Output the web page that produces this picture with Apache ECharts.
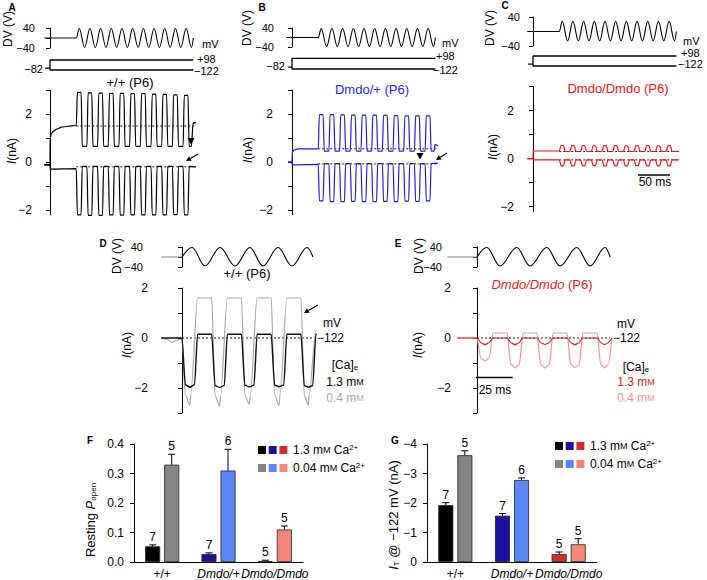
<!DOCTYPE html>
<html><head><meta charset="utf-8">
<script src="https://cdn.jsdelivr.net/npm/echarts@6/dist/echarts.min.js"></script>
<style>html,body{margin:0;padding:0;background:#fff}#c{width:707px;height:580px}</style>
</head><body><div id="c"></div>
<script>
// ================= DATA =================
// Panels A-C: time in ms from the voltage step; lobes of the 11 stimulus cycles
const lobeStart = [41.0, 57.7, 74.4, 91.1, 107.8, 124.5, 141.2, 157.9, 174.6, 191.3, 208.0];
const lobeEnd   = [50.4, 67.1, 83.8, 100.5, 117.2, 133.9, 150.6, 167.3, 184.0, 200.7, 217.4];
const dvPeakT   = [45.7, 62.4, 79.1, 95.8, 112.5, 129.2, 145.9, 162.6, 179.3, 196.0, 212.7];
const dvTroughT = [54.1, 70.8, 87.5, 104.2, 120.9, 137.6, 154.3, 171.0, 187.7, 204.4, 221.0];
const dvAmpAB = [38, -38];
const dvAmpC = [28, -26];
const dvPreABC = [[-9, 0], [38, 0], [41, 0]];
const dvPostABC = [[224, 0]];
// holding-potential steps (mV)
const holdLevels = [-82, 98, -122];
const stepStubStart = [-7.8, -6.2, -7.8];
const stepEnd = 224;

// A  (+/+) currents, nA
const aUpPre  = [[-9,-0.12],[0,-0.12],[0.2,1.0],[2,1.17],[5,1.28],[10,1.37],[18,1.45],[28,1.49],[41,1.52]];
const aUpPeak = [2.9,2.88,2.87,2.86,2.86,2.85,2.85,2.83,2.82,2.8,2.78];
const aUpBase = 0.65;
const aUpPost = [[217.4,0.65],[221,0.65],[223.5,1.6],[226,1.65],[228,1.62]];
const aLoPre  = [[-9,-0.12],[0,-0.12],[0.2,-0.3],[41,-0.28]];
const aLoPeak = [-2.2,-2.22,-2.22,-2.2,-2.21,-2.2,-2.2,-2.2,-2.2,-2.19,-2.2];
const aLoBase = -0.18;
const aLoPost = [[217.4,-0.18],[228,-0.2]];
const aDash = [1.5, -0.2];
// B  (Dmdo/+)
const bUpPre  = [[-6,0],[0,0],[0.5,0.4],[3,0.5],[10,0.55],[41,0.55]];
const bUpPeak = [1.97,1.97,1.96,1.95,1.95,1.95,1.94,1.93,1.92,1.92,1.92];
const bUpBase = 0.45;
const bUpPost = [[217.4,0.45],[222,0.45],[223.5,0.72],[228,0.68]];
const bLoPre  = [[-6,0],[0,0],[0.3,-0.12],[41,-0.1]];
const bLoPeak = [-1.62,-1.65,-1.65,-1.64,-1.65,-1.65,-1.64,-1.65,-1.63,-1.64,-1.62];
const bLoBase = -0.07;
const bLoPost = [[217.4,-0.07],[228,-0.05]];
const bDash = [0.55, -0.08];
// C  (Dmdo/Dmdo)
const cUpPre  = [[-9,0],[0,0],[0.3,0.32],[41,0.32]];
const cUpPeak = [0.55,0.55,0.55,0.54,0.55,0.55,0.54,0.55,0.55,0.54,0.55];
const cUpBase = 0.3;
const cUpPost = [[217.4,0.3],[228,0.3]];
const cLoPre  = [[-9,0],[0,0],[0.3,-0.05],[41,-0.05]];
const cLoPeak = [-0.3,-0.3,-0.3,-0.29,-0.3,-0.3,-0.3,-0.29,-0.3,-0.3,-0.3];
const cLoBase = -0.05;
const cLoPost = [[217.4,-0.05],[228,-0.05]];
const cDash = [0.3, -0.05];
const cScaleBar = [164, 214];   // 50 ms
const cScaleY = -0.68;

// D (+/+), time in ms from stimulus onset
const dStart = [0, 20.1, 40.2, 60.3, 80.4];
const dEnd   = [10.5, 30.6, 50.7, 70.8, 90.4];
const dDvPeakT = [6.8, 25.7, 45.9, 64.9, 84.5];
const dDvTroughT = [15.5, 35.8, 54.7, 74.3];
const dDvAmp = [38, -36];
const dBlkPre = [[-14,0],[0,0]];
const dBlkBase = 0.15;
const dBlkEdge = [-1.86,-1.9,-1.88,-1.88,-1.9];
const dBlkMid  = [-1.97,-1.98,-1.96,-1.95,-1.97];
const dBlkPost = [[90.4,0.15],[91,0.12]];
const dGryPre = [[-14,0],[-10,-0.05],[-7,-0.18],[-4,-0.1],[0,-0.02]];
const dGryBase = 1.6;
const dGryEdge = [-2.25,-2.3,-2.28,-2.25,-2.3];
const dGryMid  = [-2.7,-2.72,-2.65,-2.7,-2.68];
const dGryPost = [[90.4,0.3],[91,0.3]];
// E (Dmdo/Dmdo)
const eStart = [0, 20.3, 40.5, 60.8, 81.1];
const eEnd   = [10.8, 31.1, 51.4, 71.6, 91.2];
const eDvPeakT = [6.6, 26.8, 47.1, 67.4, 86.5];
const eDvTroughT = [15.5, 35.8, 56.1, 76.4];
const eDvAmp = [38, -36];
const ePinkPre = [[-13.5,0],[0,0]];
const ePinkBase = 0.2;
const ePinkEdge = [-0.8,-1.05,-1.05,-1.05,-1.05];
const ePinkMid  = [-0.92,-1.2,-1.2,-1.18,-1.2];
const ePinkPost = [[91.2,0]];
const eRedPre = [[-13.5,0],[0,0]];
const eRedBase = 0.0;
const eRedEdge = [-0.2,-0.2,-0.2,-0.2,-0.2];
const eRedMid  = [-0.27,-0.27,-0.26,-0.27,-0.27];
const eRedPost = [[91.2,0]];
const eScaleBar = [-0.9, 24.1];  // 25 ms
const eScaleY = -1.58;

// F, G bar charts
const genotypes = ['+/+', 'Dmdo/+', 'Dmdo/Dmdo'];
const fHigh = [0.053, 0.027, 0.003], fHighErr = [0.005, 0.004, 0.003], fHighN = [7, 7, 5];
const fLow  = [0.33, 0.31, 0.11],    fLowErr  = [0.035, 0.072, 0.012], fLowN  = [5, 6, 5];
const gHigh = [-1.93, -1.57, -0.27], gHighErr = [0.08, 0.07, 0.07], gHighN = [7, 7, 5];
const gLow  = [-3.62, -2.78, -0.6],  gLowErr  = [0.15, 0.07, 0.19], gLowN  = [5, 6, 5];
const fTicks = [0, 0.1, 0.2, 0.3, 0.4];
const gTicks = [0, -1, -2, -3, -4];

// ================= STYLE / LAYOUT =================
const FONT = '"Liberation Sans", Arial, Helvetica, sans-serif';
const hiColors = ['#000000', '#1b0f9c', '#d52b2b'];
const loColors = ['#858585', '#5b87f6', '#f7877e'];
const colA = '#000', colB = '#1f1fd2', colC = '#e8161c';
const colDgray = '#a8a8a8', colEred = '#c3262b', colEpink = '#f3958c';
const PXA = 0.64, PXD = 1.48;

const layout = [
  {L:41,  T:28,   W:160, H:20,    x0:50,  px:PXA, y:[-40,40]},   // 0 A dv
  {L:41,  T:60,   W:160, H:10,    x0:50,  px:PXA, y:[-122,98]},  // 1 A step
  {L:41,  T:90,   W:160, H:124.8, x0:50,  px:PXA, y:[-2.2,3]},   // 2 A cur
  {L:286, T:28,   W:160, H:19,    x0:292, px:PXA, y:[-40,40]},   // 3 B dv
  {L:286, T:58.3, W:160, H:10.7,  x0:292, px:PXA, y:[-122,98]},  // 4 B step
  {L:283, T:90,   W:160, H:124.8, x0:292, px:PXA, y:[-2.2,3]},   // 5 B cur
  {L:525, T:17,   W:160, H:29,    x0:533, px:PXA, y:[-40,40]},   // 6 C dv
  {L:525, T:56,   W:160, H:10,    x0:533, px:PXA, y:[-122,98]},  // 7 C step
  {L:523, T:86.7, W:160, H:124.8, x0:533, px:PXA, y:[-2.2,3]},   // 8 C cur
  {L:160, T:247,  W:170, H:20,    x0:182, px:PXD, y:[-40,40]},   // 9 D dv
  {L:160, T:288,  W:170, H:125,   x0:182, px:PXD, y:[-3,2]},     // 10 D cur
  {L:447, T:247,  W:175, H:20,    x0:477, px:PXD, y:[-40,40]},   // 11 E dv
  {L:457, T:288,  W:165, H:125,   x0:477, px:PXD, y:[-3,2]}      // 12 E cur
];
const labelMargin = {0:6, 2:9, 3:12, 5:10, 6:5, 8:9, 9:17, 10:12, 11:5, 12:6};

function fmtNum(v){ return v < 0 ? '\u2212' + String(Math.abs(v)) : String(v); }

// ============ builders ============
function lobeTrace(pre, starts, ends, base, edge, mid, ramp, post) {
  const pts = pre.slice();
  const r0 = ramp[0], r1 = ramp[1];
  for (let k = 0; k < starts.length; k++) {
    const s = starts[k], e = ends[k];
    if (k > 0) pts.push([s, base]);
    pts.push([s + r0, edge[k]]);
    if (mid) pts.push([(s + e) / 2, mid[k]]);
    pts.push([e - r1, edge[k]]);
    if (k < starts.length - 1) pts.push([e, base]);
  }
  return pts.concat(post);
}
function sineTrace(pre, peaks, troughs, amp, post) {
  const ev = [];
  peaks.forEach(t => ev.push([t, amp[0]]));
  troughs.forEach(t => ev.push([t, amp[1]]));
  ev.sort((a, b) => a[0] - b[0]);
  return pre.concat(ev, post);
}

const grids = [], xAxes = [], yAxes = [], series = [];
layout.forEach((g, i) => {
  grids.push({left: g.L, top: g.T, width: g.W, height: g.H, containLabel: false});
  const xmin = (g.L - g.x0) / g.px;
  xAxes.push({type: 'value', gridIndex: i, min: xmin, max: xmin + g.W / g.px, show: false});
  const isDv = g.y[0] === -40, isStep = g.y[0] === -122;
  let ticks, labels;
  if (isDv) { ticks = [-40, 0, 40]; labels = [-40, 40]; }
  else if (g.y[1] === 3) { ticks = [-2, -1, 0, 1, 2, 3]; labels = [-2, 0, 2]; }
  else { ticks = [-3, -2, -1, 0, 1, 2]; labels = [-2, 0, 2]; }
  yAxes.push({
    type: 'value', gridIndex: i, min: g.y[0], max: g.y[1], show: !isStep,
    splitLine: {show: false},
    axisLine: {show: true, lineStyle: {color: '#000', width: 1}},
    axisTick: {show: true, length: 4, customValues: ticks, lineStyle: {color: '#000', width: 1}},
    axisLabel: {show: true, customValues: labels, margin: labelMargin[i] || 8, formatter: fmtNum,
      fontSize: isDv ? 11 : 12, color: '#000', fontFamily: FONT}
  });
});

function line(gi, data, color, w, smooth, z, dash) {
  return {type: 'line', xAxisIndex: gi, yAxisIndex: gi, data, symbol: 'none', silent: true,
    clip: false, smooth: smooth || false, smoothMonotone: 'x', z: z || 2,
    lineStyle: {color, width: w || 1.1, type: dash ? [2, 2] : 'solid'}};
}

// ---- A/B/C voltage stimuli and steps ----
[[0, dvAmpAB], [3, dvAmpAB], [6, dvAmpC]].forEach(([gi, amp]) => {
  series.push(line(gi, sineTrace(dvPreABC, dvPeakT, dvTroughT, amp, dvPostABC), '#000', 1.1, 0.36));
});
[1, 4, 7].forEach((gi, p) => {
  series.push(line(gi, [[stepStubStart[p], holdLevels[0]], [0, holdLevels[0]], [0, holdLevels[1]], [stepEnd, holdLevels[1]]], '#000', 1.3));
  series.push(line(gi, [[0, holdLevels[0]], [0, holdLevels[2]], [stepEnd, holdLevels[2]]], '#000', 1.3));
});

// ---- A/B/C currents ----
const abc = [
  [2, colA, [aUpPre, aUpBase, aUpPeak, aUpPost], [aLoPre, aLoBase, aLoPeak, aLoPost], aDash, [1.8, 1.8]],
  [5, colB, [bUpPre, bUpBase, bUpPeak, bUpPost], [bLoPre, bLoBase, bLoPeak, bLoPost], bDash, [1.8, 1.8]],
  [8, colC, [cUpPre, cUpBase, cUpPeak, cUpPost], [cLoPre, cLoBase, cLoPeak, cLoPost], cDash, [3, 3]]
];
abc.forEach(([gi, col, up, lo, dash, ramp]) => {
  dash.forEach(v => series.push(line(gi, [[41, v], [228, v]], '#000', 0.9, false, 1, true)));
  series.push(line(gi, lobeTrace(up[0], lobeStart, lobeEnd, up[1], up[2], null, ramp, up[3]), col, 1.2, 0.3, 3));
  series.push(line(gi, lobeTrace(lo[0], lobeStart, lobeEnd, lo[1], lo[2], null, ramp, lo[3]), col, 1.2, 0.3, 3));
});
series.push(line(8, [[cScaleBar[0], cScaleY], [cScaleBar[1], cScaleY]], '#000', 1.3));

// ---- D ----
series.push(line(9, [[-14, 0], [0, 0]], '#888', 1.1));
series.push(line(9, sineTrace([[0, 0]], dDvPeakT, dDvTroughT, dDvAmp, [[88.5, 0]]), '#000', 1.1, 0.36));
series.push(line(10, [[0, 0], [92, 0]], '#000', 0.9, false, 1, true));
series.push(line(10, lobeTrace(dGryPre, dStart, dEnd, dGryBase, dGryEdge, dGryMid, [2.2, 4.5], dGryPost), colDgray, 1.2, 0.25, 2));
series.push(line(10, lobeTrace(dBlkPre, dStart, dEnd, dBlkBase, dBlkEdge, dBlkMid, [2.2, 2.0], dBlkPost), '#111', 1.4, 0.2, 3));

// ---- E ----
series.push(line(11, [[-20, 0], [0, 0]], '#888', 1.1));
series.push(line(11, sineTrace([[0, 0]], eDvPeakT, eDvTroughT, eDvAmp, [[90, 0]]), '#000', 1.1, 0.36));
series.push(line(12, [[0, 0], [90, 0]], '#000', 0.9, false, 1, true));
series.push(line(12, lobeTrace(ePinkPre, eStart, eEnd, ePinkBase, ePinkEdge, ePinkMid, [2.5, 2.5], ePinkPost), colEpink, 1.2, 0.25, 2));
series.push(line(12, lobeTrace(eRedPre, eStart, eEnd, eRedBase, eRedEdge, eRedMid, [3, 3], eRedPost), colEred, 1.2, 0.25, 3));
series.push(line(12, [[eScaleBar[0], eScaleY], [eScaleBar[1], eScaleY]], '#000', 1.3));

// ---- F and G bar charts ----
grids.push({left: 134, top: 444, width: 169, height: 120});
grids.push({left: 427, top: 444, width: 170, height: 120});
[13, 14].forEach(gi => {
  xAxes.push({type: 'category', gridIndex: gi, data: genotypes, boundaryGap: true,
    axisLine: {lineStyle: {color: '#000'}}, axisTick: {show: false},
    axisLabel: {color: '#000', fontSize: 12, fontFamily: FONT, margin: 6, interval: 0,
      formatter: v => v === '+/+' ? v : '{i|' + v + '}', rich: {i: {fontStyle: 'italic', fontSize: 12, fontFamily: FONT}}}});
});
const barY = (gi, tks, inv) => ({type: 'value', gridIndex: gi, min: Math.min(...tks), max: Math.max(...tks),
  interval: 1, inverse: inv, splitLine: {show: false},
  axisLine: {show: true, lineStyle: {color: '#000'}},
  axisTick: {show: true, length: 4, customValues: tks, lineStyle: {color: '#000'}},
  axisLabel: {customValues: tks, margin: 10, color: '#000', fontSize: 12, fontFamily: FONT,
    formatter: v => inv ? fmtNum(Math.round(v)) : v.toFixed(1)}});
yAxes.push(barY(13, fTicks, false));
yAxes.push(barY(14, gTicks, true));

function bars(gi, vals, cols) {
  return {type: 'bar', xAxisIndex: gi, yAxisIndex: gi, barWidth: 15, barGap: '27%', silent: true,
    data: vals.map((v, i) => ({value: v, itemStyle: {color: cols[i], borderColor: '#222', borderWidth: 0.8}}))};
}
function errs(gi, vals, e, n, off, dir) {
  return {type: 'custom', xAxisIndex: gi, yAxisIndex: gi, silent: true, z: 5,
    data: vals.map((v, i) => [i, v, e[i], n[i]]),
    renderItem: (p, api) => {
      const b = api.coord([api.value(0), api.value(1)]);
      const t = api.coord([api.value(0), api.value(1) + dir * api.value(2)]);
      const x = b[0] + off;
      return {type: 'group', children: [
        {type: 'line', shape: {x1: x, y1: b[1], x2: x, y2: t[1]}, style: {stroke: '#000', lineWidth: 1}},
        {type: 'line', shape: {x1: x - 3.5, y1: t[1], x2: x + 3.5, y2: t[1]}, style: {stroke: '#000', lineWidth: 1}},
        {type: 'text', x: x, y: t[1] - 2, style: {text: String(api.value(3)), align: 'center', verticalAlign: 'bottom',
          fontSize: 12, fontFamily: FONT, fill: '#000'}}
      ]};
    }};
}
series.push(bars(13, fHigh, hiColors), bars(13, fLow, loColors));
series.push(errs(13, fHigh, fHighErr, fHighN, -9.5, 1), errs(13, fLow, fLowErr, fLowN, 9.5, 1));
series.push(bars(14, gHigh, hiColors), bars(14, gLow, loColors));
series.push(errs(14, gHigh, gHighErr, gHighN, -9.5, -1), errs(14, gLow, gLowErr, gLowN, 9.5, -1));

// ================= TEXT & ANNOTATIONS =================
const G = [];
function T(x, y, text, o) {
  o = o || {};
  G.push({type: 'text', x, y, rotation: o.rot || 0, silent: true, z: 10,
    style: {text, fill: o.color || '#000', fontSize: o.size || 12, fontFamily: FONT,
      fontWeight: o.bold ? 'bold' : 'normal', fontStyle: o.italic ? 'italic' : 'normal',
      align: o.align || 'center', verticalAlign: 'middle', rich: o.rich || undefined}});
}
function arrow(x1, y1, x2, y2) {
  const a = Math.atan2(y2 - y1, x2 - x1), L = 5, W = 2.6;
  const bx = x2 - L * Math.cos(a), by = y2 - L * Math.sin(a);
  G.push({type: 'line', silent: true, shape: {x1, y1, x2: bx, y2: by}, style: {stroke: '#000', lineWidth: 1.2}});
  G.push({type: 'polygon', silent: true, shape: {points: [[x2, y2], [bx + W * Math.sin(a), by - W * Math.cos(a)], [bx - W * Math.sin(a), by + W * Math.cos(a)]]}, style: {fill: '#000'}});
}
function tri(x, y) {
  G.push({type: 'polygon', silent: true, shape: {points: [[x - 3.5, y - 3], [x + 3.5, y - 3], [x, y + 3.5]]}, style: {fill: '#000'}});
}
const rot = Math.PI / 2;
const richI = {i: {fontStyle: 'italic', fontSize: 12, fontFamily: FONT}};
const richM = {s: {fontSize: 9, fontFamily: FONT}, sub: {fontSize: 8, fontFamily: FONT, verticalAlign: 'bottom'}};

// panel letters
[['A', 12, 7], ['B', 262, 7], ['C', 505, 5], ['D', 103, 243], ['E', 398, 243], ['F', 90, 440], ['G', 395, 440]]
  .forEach(([t, x, y]) => T(x, y, t, {bold: true, size: 10}));
// DV labels
[[8, 29], [247, 28], [490, 28], [117, 256], [419, 256]].forEach(([x, y]) => T(x, y, 'DV (V)', {rot}));
// I(nA) labels
[[12, 151], [248, 150], [493, 147], [127, 345], [418, 345]].forEach(([x, y]) => T(x, y, '{i|I}(nA)', {rot, rich: richI}));
// titles
T(130, 82, '+/+ (P6)', {size: 13});
T(372, 89, 'Dmdo/+ (P6)', {size: 13, color: '#2a2ad6'});
T(618, 88, 'Dmdo/Dmdo (P6)', {size: 13, color: colC});
T(247, 273, '+/+ (P6)', {size: 13});
T(542, 284, '{i|Dmdo/Dmdo} (P6)', {size: 13, color: '#e01e24', rich: {i: {fontStyle: 'italic', fontSize: 13, fontFamily: FONT, fill: '#e01e24'}}});
// step labels
T(202, 44, 'mV', {align: 'left', size: 11}); T(197, 59, '+98', {align: 'left', size: 11}); T(194, 71, '\u2212122', {align: 'left', size: 11});
T(442, 43, 'mV', {align: 'left', size: 11}); T(436, 56, '+98', {align: 'left', size: 11}); T(433, 70, '\u2212122', {align: 'left', size: 11});
T(683, 41, 'mV', {align: 'left', size: 11}); T(681, 53, '+98', {align: 'left', size: 11}); T(678, 64, '\u2212122', {align: 'left', size: 11});
T(43, 69, '\u221282', {align: 'right', size: 11}); T(285, 66, '\u221282', {align: 'right', size: 11});
// D / E annotations
T(323, 323, 'mV', {align: 'left'}); T(317, 338, '\u2212122', {align: 'left'});
T(617, 324, 'mV', {align: 'left'}); T(613, 338, '\u2212122', {align: 'left'});
T(345, 365, '[Ca]{sub|e}', {rich: richM});
T(345, 382, '1.3 m{s|M}', {rich: richM});
T(345, 398, '0.4 m{s|M}', {rich: {s: {fontSize: 9, fontFamily: FONT, fill: '#aaa'}}, color: '#aaa'});
T(636, 367, '[Ca]{sub|e}', {rich: richM});
T(636, 382, '1.3 m{s|M}', {color: '#c3262b', rich: {s: {fontSize: 9, fontFamily: FONT, fill: '#c3262b'}}});
T(636, 398, '0.4 m{s|M}', {color: '#f3958c', rich: {s: {fontSize: 9, fontFamily: FONT, fill: '#f3958c'}}});
T(655, 182, '50 ms');
T(495, 390, '25 ms');
// arrows
tri(191, 141); arrow(198, 154, 186, 161);
tri(420, 156); arrow(447, 153, 436, 160);
arrow(318, 305, 304, 313);
// axis titles F / G
T(90, 520, 'Resting {i|P}{sub|open}', {rot, size: 13, rich: {i: {fontStyle: 'italic', fontSize: 13, fontFamily: FONT}, sub: {fontSize: 8, fontFamily: FONT, verticalAlign: 'bottom', padding: [7, 0, 0, 0]}}});
T(393, 515, '{i|I}{sub|T} @ \u2212122 mV (nA)', {rot, size: 13, rich: {i: {fontStyle: 'italic', fontSize: 13, fontFamily: FONT}, sub: {fontSize: 8, fontFamily: FONT, verticalAlign: 'bottom', padding: [7, 0, 0, 0]}}});
// legends
function legend(x, y1, y2) {
  hiColors.forEach((c, i) => G.push({type: 'rect', silent: true, shape: {x: x + i * 10.7, y: y1 - 4, width: 8, height: 8}, style: {fill: c}}));
  loColors.forEach((c, i) => G.push({type: 'rect', silent: true, shape: {x: x + i * 10.7, y: y2 - 4, width: 8, height: 8}, style: {fill: c}}));
  const rl = {s: {fontSize: 9, fontFamily: FONT}, sup: {fontSize: 8, fontFamily: FONT, verticalAlign: 'top', padding: [0, 0, 6, 0]}};
  T(x + 35, y1, '1.3 m{s|M} Ca{sup|2+}', {align: 'left', rich: rl});
  T(x + 35, y2, '0.04 m{s|M} Ca{sup|2+}', {align: 'left', rich: rl});
}
legend(258, 450, 468);
legend(555, 446, 464);

const option = {
  animation: false, backgroundColor: '#fff',
  textStyle: {fontFamily: FONT},
  grid: grids, xAxis: xAxes, yAxis: yAxes, series, graphic: G
};
const chart = echarts.init(document.getElementById('c'), null, {renderer: 'svg', width: 707, height: 580});
chart.setOption(option);
</script>
</body></html>
